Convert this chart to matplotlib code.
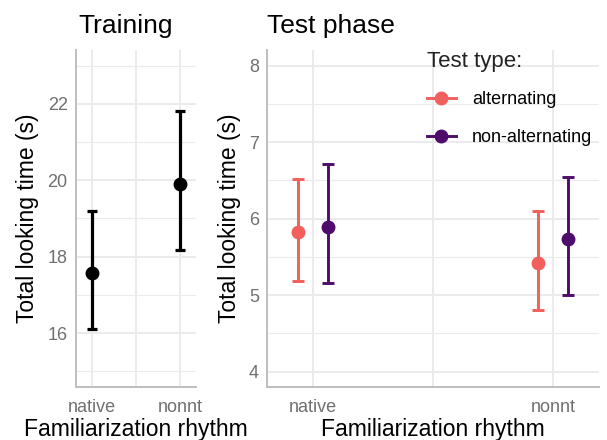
import numpy as np
import matplotlib.pyplot as plt
from matplotlib.ticker import MultipleLocator
from matplotlib.lines import Line2D

plt.rcParams['font.family'] = ['Liberation Sans', 'DejaVu Sans']

# Data
rhythms = ['native', 'nonnt']

train_mean = [17.58, 19.90]
train_low = [16.10, 18.18]
train_high = [19.19, 21.80]

test_types = ['alternating', 'non-alternating']
test_colors = ['#F1605D', '#4E0C6B']
test_mean = {'alternating': [5.82, 5.42], 'non-alternating': [5.89, 5.73]}
test_low = {'alternating': [5.19, 4.81], 'non-alternating': [5.16, 5.00]}
test_high = {'alternating': [6.52, 6.10], 'non-alternating': [6.72, 6.55]}

grid_col = '#EBEBEB'
axis_col = '#BEBEBE'
tick_col = '#707070'


def style_axes(ax):
    for s in ['top', 'right']:
        ax.spines[s].set_visible(False)
    for s in ['left', 'bottom']:
        ax.spines[s].set_color(axis_col)
        ax.spines[s].set_linewidth(1.4)
    ax.grid(which='major', color=grid_col, linewidth=1.4)
    ax.grid(which='minor', axis='y', color=grid_col, linewidth=0.8)
    ax.grid(which='minor', axis='x', color=grid_col, linewidth=1.4)
    ax.set_axisbelow(True)
    ax.tick_params(which='both', length=0, labelsize=13, labelcolor=tick_col)
    ax.tick_params(axis='x', pad=9)
    ax.tick_params(axis='y', pad=6)


fig = plt.figure(figsize=(6.07, 4.40), dpi=100)
ax1 = fig.add_axes([0.1252, 0.1205, 0.1977, 0.766])
ax2 = fig.add_axes([0.4404, 0.1205, 0.5465, 0.766])

# Training panel
x = np.arange(1, len(rhythms) + 1)
m = np.array(train_mean)
err = [m - np.array(train_low), np.array(train_high) - m]
ax1.errorbar(x, m, yerr=err, fmt='o', color='black', ms=9, elinewidth=2.3,
             capsize=3.4, capthick=2.3)
ax1.set_xlim(0.82, 2.18)
ax1.set_ylim(14.59, 23.41)
ax1.set_xticks(x)
ax1.set_xticklabels(rhythms)
ax1.xaxis.set_minor_locator(MultipleLocator(0.5))
ax1.yaxis.set_major_locator(MultipleLocator(2))
ax1.yaxis.set_minor_locator(MultipleLocator(1))
style_axes(ax1)
ax1.set_title('Training', fontsize=19, loc='left', pad=12, x=0.02)
ax1.set_xlabel('Familiarization rhythm', fontsize=16.5, labelpad=1)
ax1.set_ylabel('Total looking time (s)', fontsize=16.5, labelpad=6)

# Test panel
offsets = [-0.0625, 0.0625]
handles = []
for tt, col, off in zip(test_types, test_colors, offsets):
    mm = np.array(test_mean[tt])
    e = [mm - np.array(test_low[tt]), np.array(test_high[tt]) - mm]
    ax2.errorbar(x + off, mm, yerr=e, fmt='o', color=col, ms=9, elinewidth=2.1,
                 capsize=4.3, capthick=2.1)
    handles.append(Line2D([], [], color=col, marker='o', ms=9, lw=2.1))
ax2.set_xlim(0.81, 2.19)
ax2.set_ylim(3.80, 8.205)
ax2.set_xticks(x)
ax2.set_xticklabels(rhythms)
ax2.xaxis.set_minor_locator(MultipleLocator(0.5))
ax2.yaxis.set_major_locator(MultipleLocator(1))
ax2.yaxis.set_minor_locator(MultipleLocator(0.5))
style_axes(ax2)
ax2.set_title('Test phase', fontsize=19, loc='left', pad=12, x=0.0)
ax2.set_xlabel('Familiarization rhythm', fontsize=16.5, labelpad=1)
ax2.set_ylabel('Total looking time (s)', fontsize=16.5, labelpad=6)

leg = ax2.legend(handles, test_types, title='Test type:', loc='upper left',
                 bbox_to_anchor=(427 / 607, 1 - 51 / 440),
                 bbox_transform=fig.transFigure, frameon=False, fontsize=13,
                 title_fontsize=16, handlelength=1.6, labelspacing=1.15,
                 handletextpad=0.9, borderaxespad=0, borderpad=0)
leg._legend_box.align = 'left'
leg._legend_box.sep = 14
leg.get_title().set_color('#222222')

fig.savefig('out.png', dpi=100)
